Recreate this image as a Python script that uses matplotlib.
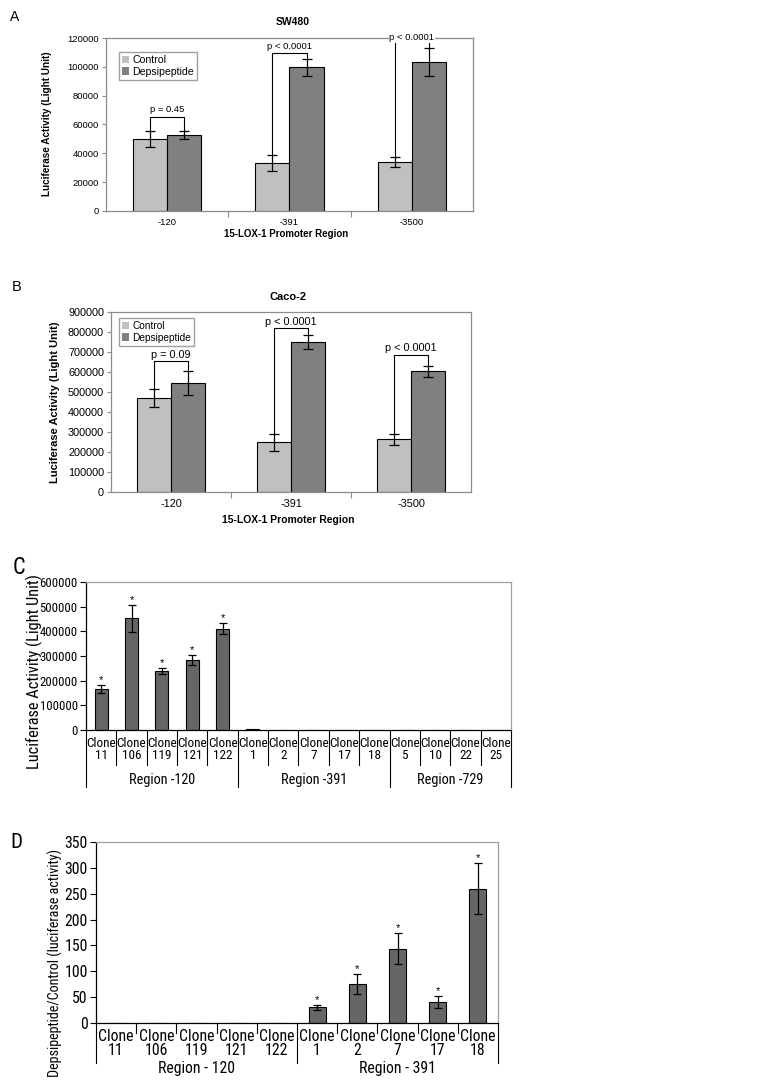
import os
import numpy as np
import matplotlib
matplotlib.use('Agg')
import matplotlib.pyplot as plt
import matplotlib.transforms as mtransforms
from matplotlib import font_manager as fm
from matplotlib.textpath import TextPath
from matplotlib.patches import Patch
from matplotlib.ticker import FuncFormatter

# ---------------- data ----------------
regions_ab = ['-120', '-391', '-3500']
series_names = ['Control', 'Depsipeptide']

sw480_control = [49700, 33000, 34200]
sw480_control_err = [5500, 5600, 3600]
sw480_deps = [52900, 99700, 103100]
sw480_deps_err = [2700, 5800, 9800]
sw480_p = ['p = 0.45', 'p < 0.0001', 'p < 0.0001']
sw480_bracket = [65000, 109800, 119200]
sw480_ptext = [70500, 114400, 120400]

caco_control = [468000, 248000, 263000]
caco_control_err = [45000, 43000, 29000]
caco_deps = [546000, 750000, 603000]
caco_deps_err = [61000, 34000, 27000]
caco_p = ['p = 0.09', 'p < 0.0001', 'p < 0.0001']
caco_bracket = [655000, 820000, 685000]
caco_ptext = [687000, 852000, 720000]

clones_c = ['11', '106', '119', '121', '122', '1', '2', '7', '17', '18', '5', '10', '22', '25']
values_c = [165000, 453000, 240000, 284000, 410000, 2500, 1500, 800, 900, 800, 800, 600, 1000, 1500]
errs_c = [17000, 55000, 12000, 20000, 22000, 0, 0, 0, 0, 0, 0, 0, 0, 0]
stars_c = [True, True, True, True, True, False, False, False, False, False, False, False, False, False]
regions_c = ['Region -120', 'Region -391', 'Region -729']
groups_c = [5, 5, 4]

clones_d = ['11', '106', '119', '121', '122', '1', '2', '7', '17', '18']
values_d = [0, 0, 0, 0, 0, 30.5, 76, 144, 40.5, 260]
errs_d = [0, 0, 0, 0, 0, 4.5, 19, 30, 12, 50]
stars_d = [False, False, False, False, False, True, True, True, True, True]
regions_d = ['Region - 120', 'Region - 391']
groups_d = [5, 5]

# ---------------- style ----------------
LIGHT = '#c0c0c0'
DARK = '#808080'
BAR_CD = '#666666'
FRAME = '#8c8c8c'
SANS = ['Liberation Sans', 'DejaVu Sans']
plt.rcParams['font.family'] = SANS


def find_narrow():
    prefs = ['liberationsansnarrow-regular', 'robotocondensed-regular',
             'notosans-condensed.', 'opensans-condensed-regular',
             'dejavusanscondensed.']
    files = {os.path.basename(f.fname).lower(): f.fname for f in fm.fontManager.ttflist}
    for p in prefs:
        for k, v in files.items():
            if k.startswith(p):
                return fm.FontProperties(fname=v)
    return fm.FontProperties(family='Liberation Sans')


NARROW = find_narrow()


def fit_size(text, target_px, prop=NARROW):
    tp = TextPath((0, 0), text, size=10, prop=prop)
    w = tp.get_extents().width * 100 / 72
    return 10 * target_px / w


def nprop(size):
    p = NARROW.copy()
    p.set_size(size)
    return p


W, H = 772, 1089
fig = plt.figure(figsize=(W / 100, H / 100), dpi=100)


def fx(px):
    return px / W


def fy(py):
    return 1 - py / H


def rect(l, t, r, b):
    return [fx(l), fy(b), (r - l) / W, (b - t) / H]


intfmt = FuncFormatter(lambda v, p: f'{int(round(v))}')


def grouped_panel(ax, ctrl, ctrl_err, deps, deps_err, ptexts, br_y, pt_y,
                  ymax, ystep, fs, leg_anchor, leg_fs):
    x = np.arange(len(regions_ab))
    w = 0.28
    ax.bar(x - w / 2, ctrl, w, color=LIGHT, edgecolor='black', linewidth=0.8, zorder=2)
    ax.bar(x + w / 2, deps, w, color=DARK, edgecolor='black', linewidth=0.8, zorder=2)
    ax.errorbar(x - w / 2, ctrl, yerr=ctrl_err, fmt='none', ecolor='black',
                elinewidth=0.9, capsize=3.5, capthick=0.9, zorder=3)
    ax.errorbar(x + w / 2, deps, yerr=deps_err, fmt='none', ecolor='black',
                elinewidth=0.9, capsize=3.5, capthick=0.9, zorder=3)
    for i in range(len(x)):
        xl, xr = x[i] - w / 2, x[i] + w / 2
        yl = ctrl[i] + ctrl_err[i]
        yr = deps[i] + deps_err[i]
        yb = br_y[i]
        ax.plot([xl, xl, xr, xr], [yl, yb, yb, yr], color='black', lw=0.8,
                zorder=4, clip_on=False)
        t = ax.text((xl + xr) / 2, pt_y[i], ptexts[i], ha='center', va='center',
                    fontsize=fs, zorder=6, clip_on=False)
        if pt_y[i] >= ymax:
            t.set_bbox(dict(facecolor='white', edgecolor='none', pad=0.5))
    ax.set_xlim(-0.5, len(x) - 0.5)
    ax.set_ylim(0, ymax)
    ax.set_yticks(np.arange(0, ymax + 1, ystep))
    ax.yaxis.set_major_formatter(intfmt)
    ax.set_xticks(x)
    ax.set_xticklabels(regions_ab)
    ax.set_xticks(np.arange(0.5, len(x) - 0.5, 1), minor=True)
    ax.tick_params(axis='x', which='major', length=0, pad=5, labelsize=fs)
    ax.tick_params(axis='x', which='minor', length=4, color=FRAME, width=0.8)
    ax.tick_params(axis='y', length=3, color=FRAME, width=0.8, labelsize=fs, pad=2)
    for s in ax.spines.values():
        s.set_color(FRAME)
        s.set_linewidth(0.9)
    handles = [Patch(facecolor=LIGHT, edgecolor='none'), Patch(facecolor=DARK, edgecolor='none')]
    ax.legend(handles, series_names, loc='upper left', bbox_to_anchor=leg_anchor,
              frameon=True, fancybox=False, edgecolor='#a0a0a0', framealpha=1,
              handlelength=0.7, handleheight=0.7, handletextpad=0.3,
              borderpad=0.3, labelspacing=0.15, borderaxespad=0, fontsize=leg_fs)


# ---------------- panel A ----------------
axA = fig.add_axes(rect(106, 38, 473, 211))
grouped_panel(axA, sw480_control, sw480_control_err, sw480_deps, sw480_deps_err,
              sw480_p, sw480_bracket, sw480_ptext, 120000, 20000, 6.8,
              (0.035, 0.92), 7.6)
fig.text(fx(10), fy(17), 'A', fontsize=10, ha='left', va='center')
fig.text(fx(293), fy(22), 'SW480', fontsize=7.5, fontweight='bold', ha='center', va='center')
fig.text(fx(286), fy(234), '15-LOX-1 Promoter Region', fontsize=7, fontweight='bold',
         ha='center', va='center')
fig.text(fx(47), fy(124), 'Luciferase Activity (Light Unit)', fontsize=7.2,
         fontweight='bold', rotation=90, ha='center', va='center')

# ---------------- panel B ----------------
axB = fig.add_axes(rect(111, 312, 471, 492))
grouped_panel(axB, caco_control, caco_control_err, caco_deps, caco_deps_err,
              caco_p, caco_bracket, caco_ptext, 900000, 100000, 7.8,
              (0.022, 0.967), 7.3)
fig.text(fx(12), fy(287), 'B', fontsize=10.5, ha='left', va='center')
fig.text(fx(288), fy(297), 'Caco-2', fontsize=8, fontweight='bold', ha='center', va='center')
fig.text(fx(288), fy(520), '15-LOX-1 Promoter Region', fontsize=7.5, fontweight='bold',
         ha='center', va='center')
fig.text(fx(55), fy(402), 'Luciferase Activity (Light Unit)', fontsize=8,
         fontweight='bold', rotation=90, ha='center', va='center')


def clone_panel(ax, clones, values, errs, stars, regions, groups, ymax, ystep,
                ytick_fs, clone_fs, region_fs, bar_w, short_sep, long_sep,
                region_y, tick_pad, cap):
    x = np.arange(len(clones))
    ax.bar(x, values, bar_w, color=BAR_CD, edgecolor='black', linewidth=0.8, zorder=2)
    idx = [i for i in range(len(x)) if errs[i] > 0]
    ax.errorbar([x[i] for i in idx], [values[i] for i in idx], yerr=[errs[i] for i in idx],
                fmt='none', ecolor='black', elinewidth=0.9, capsize=cap, capthick=0.9, zorder=3)
    for i in range(len(x)):
        if stars[i]:
            ax.annotate('*', xy=(x[i], values[i] + errs[i]), xytext=(0, 0),
                        textcoords='offset points', ha='center', va='bottom',
                        fontsize=8)
    ax.set_xlim(-0.5, len(x) - 0.5)
    ax.set_ylim(0, ymax)
    ax.set_yticks(np.arange(0, ymax + 1, ystep))
    ax.yaxis.set_major_formatter(intfmt)
    ax.set_xticks(x)
    ax.set_xticklabels([f'Clone\n{c}' for c in clones])
    for lbl in ax.get_xticklabels():
        lbl.set_fontproperties(nprop(clone_fs))
        lbl.set_linespacing(0.95)
    for lbl in ax.get_yticklabels():
        lbl.set_fontproperties(nprop(ytick_fs))
    ax.tick_params(axis='x', length=0, pad=tick_pad)
    ax.tick_params(axis='y', length=4, width=0.8, pad=2)
    ax.spines['left'].set_color('black')
    ax.spines['bottom'].set_color('black')
    ax.spines['top'].set_color('#a0a0a0')
    ax.spines['right'].set_color('#a0a0a0')
    for s in ax.spines.values():
        s.set_linewidth(0.9)
    trans = mtransforms.blended_transform_factory(ax.transData, ax.transAxes)
    bounds = np.cumsum([0] + groups) - 0.5
    for b in np.arange(-0.5, len(x), 1):
        depth = long_sep if np.any(np.isclose(bounds, b)) else short_sep
        ax.plot([b, b], [0, -depth], transform=trans, color='black', lw=0.8, clip_on=False)
    for g, name in enumerate(regions):
        c = (bounds[g] + bounds[g + 1]) / 2
        ax.text(c, -region_y, name, transform=trans, ha='center', va='center',
                fontproperties=nprop(region_fs))


# ---------------- panel C ----------------
axC = fig.add_axes(rect(86, 582, 511, 730))
clone_panel(axC, clones_c, values_c, errs_c, stars_c, regions_c, groups_c,
            600000, 100000,
            fit_size('600000', 34) * 1.07, fit_size('Clone', 26) * 1.1,
            fit_size('Region -120', 56) * 1.15,
            0.43, 35 / 148, 57 / 148, 50 / 148, 5, 3)
fig.text(fx(13), fy(568), 'C', ha='left', va='center', fontproperties=nprop(fit_size('C', 8) * 1.3))
ylc = 'Luciferase Activity (Light Unit)'
fig.text(fx(34), fy(672), ylc, rotation=90, ha='center', va='center',
         fontproperties=nprop(fit_size(ylc, 193)))

# ---------------- panel D ----------------
axD = fig.add_axes(rect(96, 842, 498, 1023))
clone_panel(axD, clones_d, values_d, errs_d, stars_d, regions_d, groups_d,
            350, 50,
            fit_size('350', 21.7), fit_size('Clone', 34), fit_size('Region - 120', 75),
            0.42, 10 / 181, 40 / 181, 46 / 181, 4, 3)
fig.text(fx(10), fy(843), 'D', ha='left', va='center', fontproperties=nprop(fit_size('D', 7) * 1.3))
yld = 'Depsipeptide/Control (luciferase activity)'
fig.text(fx(55), fy(963), yld, rotation=90, ha='center', va='center',
         fontproperties=nprop(fit_size(yld, 227)))

fig.savefig('out.png', dpi=100, facecolor='white')
